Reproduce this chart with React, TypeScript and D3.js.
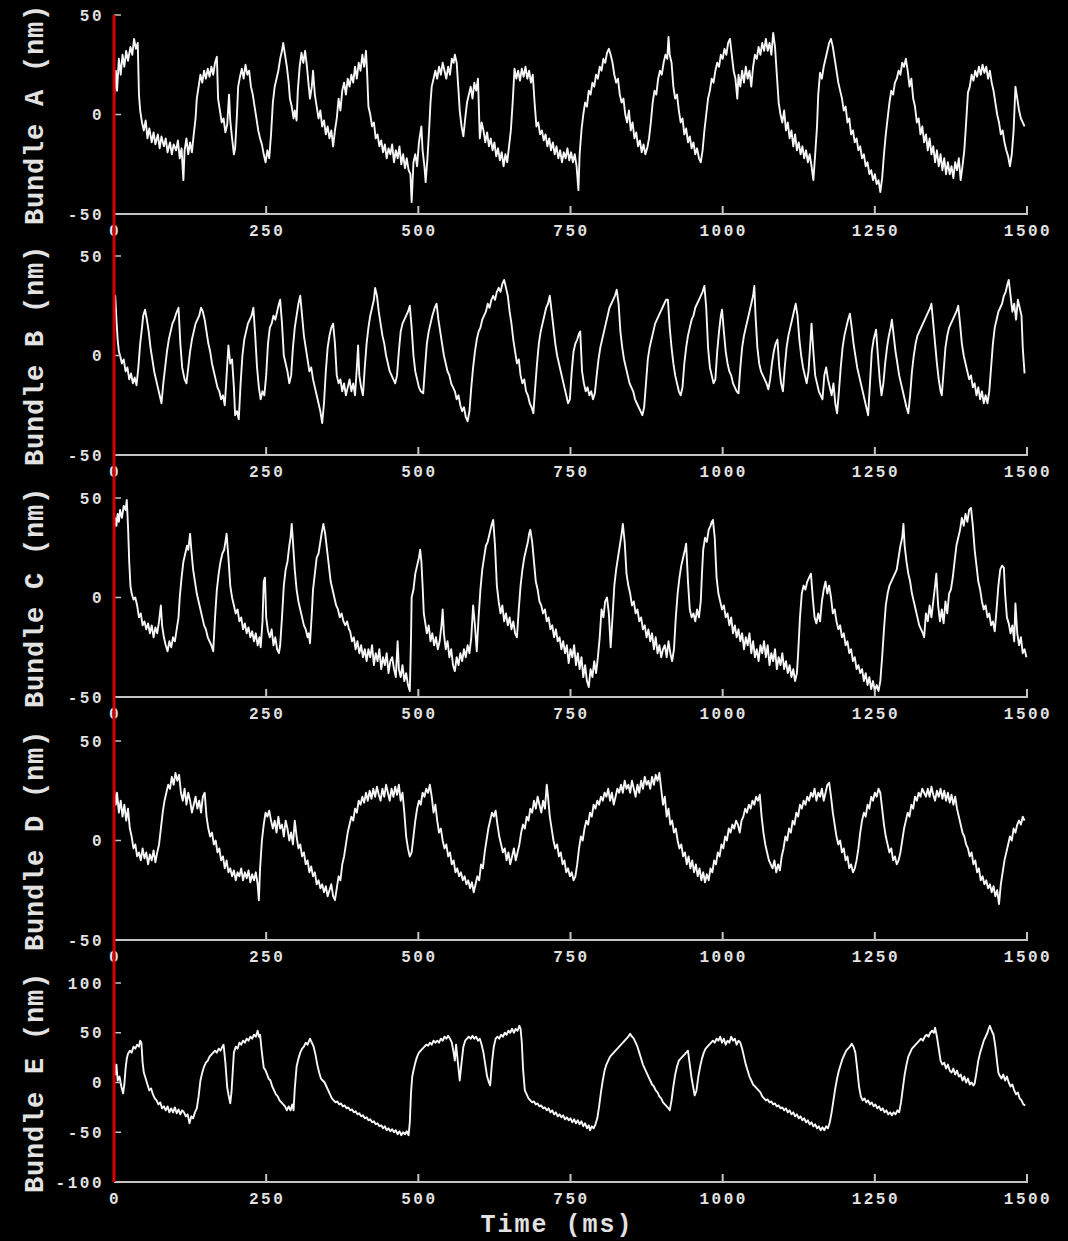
import React from 'react';
import * as d3 from 'd3';

type Pt = [number, number];

// ---------------- DATA ----------------
const timeTicks = [0, 250, 500, 750, 1000, 1250, 1500];
const panelNames = ['A', 'B', 'C', 'D', 'E'];
const yDomains: [number, number][] = [[-50, 50], [-50, 50], [-50, 50], [-50, 50], [-100, 100]];
const yTicksSmall = [-50, 0, 50];
const yTicksLarge = [-100, -50, 0, 50, 100];

const bundleA: Pt[] = [[0,8],[3,22],[5,12],[8,28],[11,20],[14,30],[17,24],[20,32],[23,27],[27,34],[30,30],[33,38],[36,33],[39,36],[41,10],[43,2],[46,-4],[49,-8],[52,-3],[55,-12],[58,-7],[62,-14],[65,-9],[68,-15],[72,-10],[75,-17],[78,-11],[82,-16],[85,-12],[88,-19],[92,-14],[95,-20],[98,-15],[102,-18],[105,-13],[108,-22],[111,-17],[114,-33],[116,-18],[119,-12],[122,-20],[125,-14],[128,-19],[131,-10],[134,-2],[136,8],[139,14],[142,20],[145,16],[148,22],[151,18],[154,23],[157,19],[160,24],[163,20],[166,26],[169,29],[171,8],[174,2],[177,-4],[180,-2],[183,-9],[186,-5],[189,10],[191,-3],[194,-12],[197,-20],[199,-17],[202,0],[204,14],[207,19],[210,23],[213,18],[216,25],[219,20],[222,22],[225,14],[228,10],[231,4],[234,-2],[237,-8],[240,-12],[243,-15],[246,-20],[249,-24],[252,-18],[255,-22],[258,-10],[261,6],[264,14],[267,18],[270,22],[273,28],[276,32],[278,36],[281,30],[284,24],[287,16],[289,8],[292,4],[295,-2],[297,2],[300,-3],[302,12],[305,24],[308,31],[311,26],[314,32],[317,24],[320,14],[322,8],[325,14],[327,22],[330,10],[333,4],[336,-2],[339,2],[342,-6],[345,-3],[348,-10],[351,-6],[354,-12],[357,-8],[360,-16],[363,-8],[366,-2],[369,8],[372,2],[375,12],[378,16],[381,10],[384,18],[387,14],[390,20],[393,16],[396,24],[399,18],[402,26],[405,22],[408,30],[411,24],[414,32],[416,20],[418,4],[421,0],[424,-6],[427,-4],[430,-12],[433,-10],[436,-16],[439,-13],[442,-19],[445,-15],[448,-22],[451,-17],[454,-20],[457,-15],[460,-24],[463,-18],[466,-22],[469,-16],[472,-25],[475,-20],[478,-27],[481,-22],[484,-28],[487,-30],[489,-44],[492,-24],[495,-20],[498,-26],[501,-14],[503,-10],[505,-6],[507,-18],[510,-26],[512,-34],[515,-22],[518,-6],[520,6],[522,14],[525,18],[528,22],[531,18],[534,24],[537,20],[540,26],[543,22],[546,18],[549,24],[552,20],[555,28],[558,26],[560,30],[563,26],[566,12],[568,2],[571,-6],[574,-11],[577,-2],[580,6],[583,10],[586,14],[589,8],[592,16],[595,12],[598,18],[601,-12],[604,-4],[607,-8],[610,-14],[613,-9],[616,-16],[619,-12],[622,-18],[625,-14],[628,-21],[631,-17],[634,-23],[637,-19],[640,-26],[643,-20],[646,-24],[649,-16],[652,-8],[655,6],[658,23],[661,18],[664,22],[667,17],[670,23],[673,19],[676,24],[679,18],[682,22],[685,16],[688,20],[691,6],[694,-6],[697,-4],[700,-10],[703,-8],[706,-13],[709,-10],[712,-16],[715,-12],[718,-18],[721,-14],[724,-20],[727,-16],[730,-22],[733,-18],[736,-24],[739,-19],[742,-22],[745,-17],[748,-23],[751,-19],[754,-24],[757,-20],[760,-26],[763,-38],[765,-20],[768,-8],[771,0],[774,6],[777,4],[780,12],[783,10],[786,16],[789,14],[792,20],[795,18],[798,24],[801,22],[804,28],[807,26],[810,31],[813,33],[816,30],[819,26],[822,20],[825,16],[828,18],[831,10],[834,6],[837,8],[840,0],[843,-4],[846,2],[849,-8],[852,-4],[855,-12],[858,-9],[861,-16],[864,-13],[867,-19],[870,-15],[873,-20],[876,-17],[879,-12],[882,-4],[885,6],[888,12],[891,10],[894,18],[897,22],[900,20],[903,26],[906,30],[909,28],[911,39],[913,30],[916,26],[919,14],[922,8],[925,10],[928,2],[931,-4],[934,-2],[937,-10],[940,-7],[943,-14],[946,-11],[949,-17],[952,-14],[955,-20],[958,-17],[961,-22],[964,-24],[967,-18],[970,-8],[973,0],[976,8],[979,12],[982,18],[985,16],[988,22],[991,26],[994,24],[997,30],[1000,28],[1003,33],[1006,30],[1009,36],[1012,38],[1015,30],[1018,22],[1021,18],[1024,8],[1026,20],[1029,14],[1032,22],[1035,16],[1038,24],[1041,18],[1044,22],[1047,14],[1050,24],[1053,30],[1056,28],[1059,34],[1062,30],[1065,36],[1068,32],[1071,38],[1074,32],[1077,36],[1080,30],[1083,41],[1086,34],[1089,20],[1092,6],[1095,0],[1098,-4],[1101,2],[1104,-8],[1107,-4],[1110,-12],[1113,-8],[1116,-16],[1119,-10],[1122,-18],[1125,-14],[1128,-20],[1131,-16],[1134,-22],[1137,-18],[1140,-24],[1143,-20],[1146,-26],[1149,-33],[1152,-20],[1155,-6],[1157,10],[1160,21],[1163,18],[1166,24],[1169,28],[1172,32],[1175,36],[1178,38],[1181,34],[1184,28],[1187,22],[1190,16],[1193,12],[1196,8],[1199,2],[1202,4],[1205,-4],[1208,-2],[1211,-10],[1214,-8],[1217,-14],[1220,-12],[1223,-18],[1226,-16],[1229,-22],[1232,-20],[1235,-26],[1238,-24],[1241,-30],[1244,-28],[1247,-33],[1250,-30],[1253,-35],[1256,-33],[1259,-39],[1262,-32],[1265,-20],[1268,-10],[1271,-2],[1274,6],[1277,12],[1280,10],[1283,16],[1286,18],[1289,22],[1292,20],[1295,26],[1298,24],[1301,28],[1304,22],[1307,14],[1310,18],[1313,8],[1316,4],[1319,-4],[1322,-2],[1325,-10],[1328,-6],[1331,-14],[1334,-10],[1337,-18],[1340,-12],[1343,-20],[1346,-16],[1349,-24],[1352,-18],[1355,-26],[1358,-20],[1361,-28],[1364,-22],[1367,-30],[1370,-24],[1373,-30],[1376,-26],[1379,-32],[1382,-24],[1385,-28],[1388,-22],[1391,-33],[1394,-26],[1397,-18],[1400,-4],[1403,11],[1406,14],[1409,20],[1412,17],[1415,22],[1418,19],[1421,24],[1424,20],[1427,25],[1430,21],[1433,24],[1436,18],[1439,22],[1442,16],[1445,12],[1448,6],[1451,0],[1454,-4],[1457,-10],[1460,-8],[1463,-14],[1466,-18],[1469,-21],[1472,-26],[1475,-20],[1478,-8],[1481,14],[1484,8],[1487,2],[1490,-2],[1493,-4],[1496,-6]];

const bundleB: Pt[] = [[0,28],[2,30],[4,18],[6,8],[8,2],[10,0],[13,-4],[16,-2],[19,-8],[22,-6],[25,-12],[28,-9],[31,-14],[34,-11],[37,-15],[40,-6],[43,6],[46,14],[48,20],[51,23],[54,18],[57,12],[60,4],[63,-2],[66,-8],[69,-12],[72,-16],[75,-20],[78,-24],[81,-14],[84,-6],[87,2],[90,8],[93,12],[96,16],[99,18],[102,21],[106,24],[109,6],[112,-6],[116,-12],[119,-14],[122,-6],[125,2],[128,8],[131,12],[134,16],[137,18],[140,20],[143,24],[146,22],[149,18],[152,12],[155,6],[158,2],[161,-4],[164,-8],[167,-12],[170,-16],[173,-18],[176,-22],[179,-20],[182,-25],[185,-10],[188,5],[191,-4],[194,-2],[197,-16],[199,-30],[202,-28],[205,-32],[208,-14],[211,0],[214,8],[217,12],[220,16],[223,18],[226,20],[229,24],[232,10],[235,-6],[238,-16],[241,-22],[244,-18],[247,-20],[250,-10],[253,6],[256,14],[259,16],[262,20],[265,18],[268,22],[271,26],[273,28],[276,16],[279,0],[282,-4],[285,-8],[288,-14],[291,-10],[294,4],[297,14],[300,20],[303,26],[306,30],[309,20],[312,10],[315,4],[318,-2],[321,-8],[324,-6],[327,-12],[330,-16],[333,-20],[336,-24],[339,-28],[342,-34],[345,-24],[348,-8],[351,4],[354,10],[357,14],[360,16],[363,6],[366,-10],[369,-14],[372,-12],[375,-18],[378,-14],[381,-20],[384,-16],[387,-12],[390,-18],[393,-14],[396,-20],[399,-6],[401,5],[403,-10],[406,-16],[409,-20],[412,-6],[415,6],[418,14],[421,20],[424,24],[427,28],[429,34],[432,30],[435,22],[438,16],[441,10],[444,6],[447,0],[450,-4],[453,-8],[456,-10],[459,-12],[462,-14],[465,-10],[468,2],[471,12],[474,16],[477,18],[480,20],[483,22],[486,25],[489,14],[492,0],[495,-8],[498,-12],[501,-16],[504,-18],[508,-19],[511,-6],[514,6],[517,12],[520,16],[523,20],[527,24],[530,26],[533,18],[536,12],[539,6],[542,0],[545,-4],[548,-8],[551,-10],[554,-14],[557,-16],[560,-18],[563,-22],[566,-20],[569,-25],[572,-28],[575,-26],[578,-31],[581,-33],[584,-28],[587,-16],[590,-6],[593,2],[596,8],[599,12],[602,14],[605,18],[608,20],[611,22],[614,26],[617,24],[620,28],[623,30],[626,28],[629,32],[632,34],[635,32],[638,36],[641,38],[644,34],[647,30],[650,22],[653,16],[656,8],[659,2],[662,-4],[665,-2],[668,-10],[671,-14],[674,-12],[677,-18],[680,-20],[683,-24],[686,-26],[689,-29],[692,-16],[695,-4],[698,6],[701,12],[704,16],[707,20],[710,24],[713,26],[716,30],[719,22],[722,14],[725,6],[728,0],[731,-4],[734,-8],[737,-12],[740,-16],[743,-20],[746,-24],[749,-22],[752,-8],[755,2],[758,6],[761,8],[764,11],[766,12],[769,-8],[772,-14],[775,-18],[778,-16],[781,-20],[784,-18],[787,-22],[790,-19],[793,-10],[796,-2],[799,4],[802,8],[805,12],[808,16],[811,20],[814,24],[817,26],[820,28],[823,30],[826,33],[829,26],[832,12],[835,4],[838,-2],[841,-6],[844,-10],[847,-14],[850,-16],[853,-18],[856,-22],[859,-24],[862,-26],[865,-28],[868,-30],[871,-26],[874,-14],[877,-2],[880,4],[883,8],[886,12],[889,16],[892,18],[895,20],[898,22],[901,24],[904,26],[907,28],[910,28],[913,14],[916,4],[919,-4],[922,-10],[925,-14],[928,-18],[931,-20],[934,-16],[937,-4],[940,4],[943,10],[946,14],[949,18],[952,20],[955,24],[958,26],[961,28],[964,30],[967,32],[970,35],[973,24],[976,4],[979,-6],[982,-10],[985,-14],[988,-12],[991,2],[994,12],[997,20],[999,23],[1002,12],[1005,2],[1008,-4],[1011,-8],[1014,-10],[1017,-14],[1020,-16],[1023,-18],[1026,-19],[1029,-6],[1032,4],[1035,10],[1038,14],[1041,18],[1044,22],[1047,26],[1050,30],[1052,35],[1054,20],[1057,4],[1060,-4],[1063,-8],[1066,-10],[1069,-12],[1072,-14],[1075,-17],[1078,-12],[1081,-4],[1084,2],[1087,6],[1090,8],[1093,-6],[1096,-14],[1099,-18],[1102,-6],[1105,4],[1108,10],[1111,14],[1114,18],[1117,22],[1120,26],[1123,20],[1126,8],[1129,0],[1132,-6],[1135,-10],[1138,-14],[1141,-8],[1144,6],[1146,16],[1149,2],[1152,-10],[1155,-14],[1158,-18],[1161,-20],[1164,-22],[1167,-10],[1170,-6],[1173,-12],[1176,-16],[1179,-20],[1182,-14],[1185,-24],[1188,-29],[1191,-18],[1194,-6],[1197,4],[1200,10],[1203,14],[1206,18],[1209,21],[1212,14],[1215,6],[1218,0],[1221,-6],[1224,-10],[1227,-14],[1230,-18],[1233,-22],[1236,-26],[1239,-30],[1242,-14],[1245,2],[1248,8],[1252,13],[1255,0],[1258,-12],[1261,-20],[1264,-14],[1267,-4],[1270,4],[1273,10],[1276,14],[1278,18],[1281,10],[1284,2],[1287,-4],[1290,-10],[1293,-14],[1296,-18],[1299,-22],[1302,-26],[1305,-29],[1308,-20],[1311,-8],[1314,0],[1317,6],[1320,10],[1323,12],[1326,14],[1329,16],[1332,18],[1335,20],[1338,22],[1341,24],[1343,26],[1346,16],[1349,6],[1352,-4],[1355,-12],[1358,-18],[1360,-20],[1363,-8],[1366,4],[1369,10],[1372,14],[1375,16],[1378,18],[1381,20],[1384,22],[1387,25],[1390,16],[1393,6],[1396,0],[1399,-4],[1402,-8],[1405,-12],[1408,-10],[1411,-16],[1414,-14],[1417,-20],[1420,-16],[1423,-22],[1426,-18],[1429,-24],[1432,-20],[1435,-24],[1438,-18],[1441,-6],[1444,6],[1447,14],[1450,18],[1453,22],[1456,24],[1459,26],[1462,30],[1465,32],[1468,36],[1470,38],[1473,30],[1476,22],[1479,26],[1482,18],[1485,28],[1488,24],[1491,20],[1493,4],[1496,-9]];

const bundleC: Pt[] = [[0,34],[2,40],[4,36],[6,42],[8,38],[10,44],[13,40],[16,46],[19,44],[21,49],[23,36],[25,18],[27,6],[29,2],[32,-1],[35,0],[38,-4],[41,-10],[44,-8],[47,-14],[50,-12],[53,-16],[56,-13],[59,-18],[62,-14],[65,-20],[68,-15],[71,-18],[74,-12],[77,-4],[79,-14],[82,-20],[85,-24],[88,-27],[91,-22],[94,-25],[97,-20],[100,-22],[103,-16],[106,-10],[108,0],[111,10],[114,18],[117,22],[120,26],[122,24],[125,32],[127,24],[130,14],[133,8],[136,2],[139,-2],[142,-6],[145,-10],[148,-14],[151,-16],[154,-20],[157,-22],[160,-24],[163,-27],[166,-10],[169,4],[172,12],[175,18],[178,22],[181,24],[183,28],[185,32],[188,20],[191,6],[194,0],[197,-4],[200,-8],[203,-6],[206,-12],[209,-10],[212,-16],[215,-13],[218,-18],[221,-15],[224,-20],[227,-17],[230,-22],[233,-18],[236,-24],[239,-20],[241,-25],[244,-12],[246,8],[248,10],[250,-10],[253,-17],[256,-20],[259,-16],[262,-24],[265,-20],[268,-26],[271,-28],[273,-24],[276,-10],[279,6],[282,14],[285,18],[288,26],[290,30],[292,37],[294,28],[297,14],[300,4],[303,-2],[306,-6],[309,-10],[312,-14],[315,-16],[318,-20],[320,-18],[322,-23],[325,-8],[327,4],[330,12],[333,20],[336,22],[339,28],[341,32],[344,37],[347,32],[350,24],[353,16],[356,8],[359,4],[362,0],[365,-4],[368,-6],[371,-10],[374,-8],[377,-12],[380,-14],[383,-12],[386,-16],[388,-17],[391,-22],[394,-20],[397,-26],[400,-22],[403,-28],[406,-24],[409,-30],[412,-26],[415,-32],[418,-26],[421,-30],[424,-24],[427,-34],[430,-28],[433,-32],[436,-26],[439,-36],[442,-30],[445,-34],[448,-28],[451,-38],[454,-32],[457,-30],[460,-36],[463,-40],[466,-22],[468,-36],[471,-40],[474,-34],[477,-42],[480,-38],[483,-44],[486,-47],[488,-20],[489,0],[492,4],[495,12],[498,16],[501,20],[503,24],[505,18],[507,6],[509,-8],[511,-12],[514,-18],[517,-14],[520,-22],[523,-18],[526,-24],[529,-20],[532,-26],[535,-22],[538,-14],[540,-6],[542,-18],[545,-26],[548,-22],[551,-30],[554,-26],[557,-34],[560,-37],[563,-30],[566,-34],[569,-28],[572,-32],[575,-26],[578,-30],[581,-24],[584,-28],[587,-20],[590,-4],[593,-14],[596,-27],[599,-10],[602,4],[605,14],[608,20],[611,26],[614,28],[617,32],[620,36],[623,39],[626,26],[629,6],[632,-2],[635,-8],[638,-4],[641,-12],[644,-8],[647,-14],[650,-10],[653,-16],[656,-12],[659,-18],[662,-20],[665,-6],[668,6],[671,14],[674,20],[677,24],[680,28],[682,32],[684,34],[687,28],[690,18],[693,8],[696,4],[699,-2],[702,-4],[705,-8],[708,-6],[711,-12],[714,-10],[717,-16],[720,-14],[723,-20],[726,-16],[729,-22],[732,-20],[735,-26],[738,-22],[741,-28],[744,-24],[747,-33],[750,-26],[753,-30],[756,-24],[759,-34],[762,-28],[765,-36],[768,-30],[771,-40],[774,-34],[777,-42],[780,-45],[783,-36],[786,-40],[789,-32],[792,-38],[795,-30],[798,-20],[801,-6],[804,-10],[807,-2],[810,0],[813,-8],[816,-25],[819,-10],[822,6],[825,14],[828,20],[831,26],[834,32],[836,37],[839,28],[842,12],[845,6],[848,2],[851,-4],[854,-2],[857,-8],[860,-6],[863,-12],[866,-10],[869,-16],[872,-14],[875,-20],[878,-16],[881,-22],[884,-18],[887,-26],[890,-20],[893,-28],[896,-24],[899,-30],[902,-26],[905,-24],[908,-30],[911,-22],[914,-28],[917,-32],[920,-26],[923,-10],[926,2],[929,10],[932,16],[935,20],[938,24],[940,27],[943,8],[946,-6],[949,-10],[952,-8],[955,-12],[958,-6],[961,-10],[964,-2],[966,12],[968,24],[971,30],[974,28],[977,34],[980,36],[982,38],[984,39],[987,30],[990,10],[993,2],[996,-2],[999,-6],[1002,-4],[1005,-10],[1008,-8],[1011,-14],[1014,-10],[1017,-18],[1020,-14],[1023,-20],[1026,-16],[1029,-22],[1032,-18],[1035,-26],[1038,-20],[1041,-24],[1044,-18],[1047,-28],[1050,-22],[1053,-30],[1056,-26],[1059,-32],[1062,-24],[1065,-28],[1068,-22],[1071,-30],[1074,-24],[1077,-34],[1080,-28],[1083,-32],[1086,-26],[1089,-36],[1092,-30],[1095,-34],[1098,-28],[1101,-36],[1104,-32],[1107,-38],[1110,-34],[1113,-40],[1116,-36],[1119,-42],[1122,-38],[1124,-28],[1127,-10],[1130,2],[1133,6],[1136,4],[1139,8],[1142,10],[1145,12],[1148,0],[1151,-10],[1154,-13],[1157,-8],[1160,-12],[1163,-2],[1166,4],[1169,8],[1172,2],[1175,6],[1178,0],[1181,-8],[1184,-6],[1187,-12],[1190,-16],[1193,-14],[1196,-20],[1199,-18],[1202,-24],[1205,-22],[1208,-28],[1211,-26],[1214,-32],[1217,-30],[1220,-36],[1223,-34],[1226,-38],[1229,-36],[1232,-42],[1235,-38],[1238,-44],[1241,-40],[1244,-46],[1247,-42],[1250,-47],[1253,-44],[1256,-47],[1259,-42],[1262,-30],[1265,-16],[1268,-4],[1271,2],[1274,6],[1277,8],[1280,10],[1283,12],[1286,14],[1289,20],[1292,26],[1295,30],[1297,37],[1299,26],[1302,18],[1305,12],[1308,8],[1311,2],[1314,-2],[1317,-6],[1320,-10],[1323,-14],[1326,-16],[1329,-18],[1331,-20],[1334,-8],[1337,-12],[1340,-4],[1343,-10],[1346,-2],[1349,6],[1351,12],[1354,-4],[1357,-12],[1360,-6],[1363,-13],[1366,-2],[1369,-8],[1372,2],[1375,4],[1378,10],[1381,18],[1384,26],[1387,30],[1390,34],[1393,40],[1396,36],[1399,42],[1402,38],[1405,44],[1408,45],[1411,36],[1414,24],[1417,16],[1420,8],[1423,4],[1426,-2],[1429,-6],[1432,-4],[1435,-10],[1438,-8],[1441,-14],[1444,-12],[1447,-17],[1450,-6],[1453,6],[1456,14],[1459,16],[1462,15],[1464,2],[1467,-10],[1470,-13],[1473,-18],[1476,-14],[1479,-22],[1481,-3],[1484,-18],[1487,-24],[1490,-20],[1493,-28],[1496,-26],[1499,-30]];

const bundleD: Pt[] = [[0,26],[3,18],[5,24],[8,14],[11,20],[14,12],[17,18],[20,10],[23,16],[26,6],[29,2],[32,-4],[35,-2],[38,-8],[41,-6],[44,-10],[47,-4],[50,-9],[53,-6],[56,-12],[59,-7],[62,-10],[65,-5],[68,-11],[71,-6],[74,-2],[77,6],[80,14],[83,20],[86,24],[89,28],[92,26],[95,32],[98,28],[101,34],[104,30],[107,33],[110,24],[113,20],[116,26],[119,18],[122,24],[125,20],[128,14],[131,18],[134,22],[137,16],[140,20],[143,14],[146,22],[149,24],[152,12],[155,6],[158,2],[161,4],[164,-2],[167,0],[170,-6],[173,-4],[176,-10],[179,-8],[182,-14],[185,-10],[188,-16],[191,-14],[194,-18],[197,-15],[200,-20],[203,-16],[206,-18],[209,-14],[212,-20],[215,-16],[218,-19],[221,-15],[224,-21],[227,-17],[230,-20],[233,-16],[236,-22],[238,-30],[240,-14],[243,0],[246,8],[249,14],[252,12],[255,15],[258,10],[261,6],[264,10],[267,4],[270,12],[273,6],[276,8],[279,2],[282,10],[285,6],[288,0],[291,4],[294,-2],[297,10],[300,2],[303,-4],[306,-2],[309,-8],[312,-6],[315,-12],[318,-10],[321,-16],[324,-13],[327,-18],[330,-16],[333,-22],[336,-20],[339,-24],[342,-22],[345,-26],[348,-23],[351,-28],[354,-25],[357,-22],[360,-28],[363,-30],[366,-24],[369,-18],[372,-20],[375,-12],[378,-8],[381,-2],[384,4],[387,8],[390,12],[393,10],[396,16],[399,14],[402,20],[405,18],[408,22],[411,19],[414,24],[417,20],[420,25],[423,21],[426,26],[429,22],[432,27],[435,23],[438,20],[441,26],[444,22],[447,28],[450,24],[453,20],[456,26],[459,22],[462,27],[465,23],[468,28],[471,20],[474,24],[477,14],[480,2],[483,-4],[486,-8],[489,-6],[492,2],[495,10],[498,16],[501,20],[504,18],[507,24],[510,22],[513,26],[516,24],[519,28],[522,22],[525,14],[528,18],[531,10],[534,4],[537,6],[540,0],[543,-4],[546,-2],[549,-8],[552,-6],[555,-12],[558,-10],[561,-16],[564,-14],[567,-18],[570,-16],[573,-20],[576,-18],[579,-22],[582,-20],[585,-24],[588,-21],[591,-26],[594,-22],[597,-18],[600,-20],[603,-12],[606,-14],[609,-6],[612,0],[615,6],[618,10],[621,14],[624,12],[627,15],[630,8],[633,2],[636,-2],[639,-6],[642,-4],[645,-10],[648,-6],[651,-12],[654,-8],[657,-4],[660,-10],[663,-6],[666,-2],[669,4],[672,8],[675,6],[678,12],[681,10],[684,16],[687,14],[690,20],[693,16],[696,22],[699,18],[702,14],[705,20],[708,16],[711,28],[713,22],[716,12],[719,6],[722,0],[725,-4],[728,-2],[731,-8],[734,-6],[737,-12],[740,-10],[743,-16],[746,-14],[749,-18],[752,-16],[755,-20],[758,-18],[761,-12],[764,-4],[767,2],[770,0],[773,6],[776,10],[779,8],[782,14],[785,12],[788,18],[791,16],[794,20],[797,18],[800,22],[803,20],[806,24],[809,22],[812,26],[815,20],[818,24],[821,18],[824,22],[827,26],[830,24],[833,28],[836,24],[839,30],[842,26],[845,28],[848,24],[851,30],[854,26],[857,22],[860,28],[863,24],[866,30],[869,26],[872,32],[875,28],[878,30],[881,26],[884,32],[887,28],[890,33],[893,30],[896,34],[899,26],[902,18],[905,22],[908,12],[911,16],[914,8],[917,10],[920,4],[923,6],[926,0],[929,-4],[932,-2],[935,-8],[938,-6],[941,-12],[944,-8],[947,-14],[950,-10],[953,-16],[956,-12],[959,-18],[962,-14],[965,-20],[968,-16],[971,-21],[974,-17],[977,-20],[980,-14],[983,-16],[986,-10],[989,-12],[992,-6],[995,-8],[998,-2],[1001,-4],[1004,2],[1007,0],[1010,6],[1013,4],[1016,8],[1019,6],[1022,10],[1025,8],[1028,4],[1031,10],[1034,12],[1037,16],[1040,14],[1043,18],[1046,16],[1049,20],[1052,18],[1055,22],[1058,20],[1061,23],[1064,12],[1067,4],[1070,-2],[1073,-6],[1076,-10],[1079,-12],[1082,-14],[1085,-10],[1088,-16],[1091,-12],[1094,-15],[1097,-8],[1100,-4],[1103,2],[1106,0],[1109,6],[1112,4],[1115,10],[1118,8],[1121,14],[1124,12],[1127,18],[1130,16],[1133,20],[1136,18],[1139,22],[1142,20],[1145,24],[1148,22],[1151,26],[1154,20],[1157,24],[1160,22],[1163,26],[1166,20],[1169,24],[1172,28],[1175,29],[1178,22],[1181,14],[1184,8],[1187,2],[1190,-2],[1193,0],[1196,-6],[1199,-4],[1202,-10],[1205,-8],[1208,-14],[1211,-12],[1214,-16],[1217,-14],[1220,-10],[1223,-4],[1226,4],[1229,10],[1232,14],[1235,12],[1238,18],[1241,16],[1244,22],[1247,20],[1250,24],[1253,22],[1256,26],[1259,24],[1262,16],[1265,8],[1268,2],[1271,-2],[1274,-6],[1277,-4],[1280,-10],[1283,-8],[1286,-12],[1289,-10],[1292,-6],[1295,0],[1298,6],[1301,10],[1304,14],[1307,12],[1310,18],[1313,16],[1316,22],[1319,20],[1322,24],[1325,22],[1328,26],[1331,24],[1334,22],[1337,26],[1340,22],[1343,27],[1346,23],[1349,20],[1352,25],[1355,22],[1358,26],[1361,21],[1364,25],[1367,20],[1370,24],[1373,19],[1376,23],[1379,18],[1382,22],[1385,16],[1388,12],[1391,8],[1394,4],[1397,2],[1400,-2],[1403,-4],[1406,-8],[1409,-6],[1412,-12],[1415,-10],[1418,-16],[1421,-14],[1424,-20],[1427,-18],[1430,-22],[1433,-20],[1436,-24],[1439,-22],[1442,-26],[1445,-23],[1448,-28],[1451,-25],[1454,-32],[1457,-22],[1460,-16],[1463,-10],[1466,-6],[1469,-2],[1472,2],[1475,0],[1478,6],[1481,4],[1484,8],[1487,10],[1490,8],[1493,12],[1496,10]];

const bundleE: Pt[] = [[0,22],[2,8],[4,18],[6,2],[9,6],[12,-4],[15,-11],[17,-2],[19,14],[21,24],[23,29],[26,32],[29,30],[32,36],[35,34],[38,38],[41,36],[43,42],[45,40],[47,20],[49,10],[52,4],[55,-2],[58,-8],[61,-6],[64,-12],[67,-16],[70,-18],[73,-22],[76,-20],[79,-26],[82,-24],[85,-28],[88,-24],[91,-30],[94,-26],[97,-30],[100,-25],[103,-31],[106,-27],[109,-32],[112,-28],[115,-30],[118,-34],[121,-32],[124,-41],[127,-34],[130,-36],[133,-30],[136,-26],[139,-14],[142,2],[145,10],[148,16],[151,20],[154,22],[157,26],[160,28],[163,30],[166,32],[169,30],[172,34],[175,32],[178,36],[180,38],[183,20],[186,-5],[188,-12],[191,-21],[193,-10],[195,10],[197,30],[200,36],[203,34],[206,40],[209,38],[212,42],[215,40],[218,44],[221,42],[224,46],[227,44],[230,48],[233,46],[236,52],[238,46],[240,48],[243,30],[246,15],[249,12],[251,9],[254,4],[257,2],[260,-4],[263,-8],[266,-12],[269,-14],[272,-18],[275,-20],[278,-22],[281,-24],[284,-28],[287,-24],[290,-28],[293,-22],[295,-28],[297,-6],[300,16],[303,24],[306,30],[309,34],[312,36],[315,40],[318,38],[322,44],[325,40],[328,36],[331,28],[334,18],[337,10],[340,4],[343,2],[346,0],[349,-4],[352,-8],[355,-12],[358,-16],[361,-18],[364,-20],[367,-19],[370,-22],[373,-21],[376,-24],[379,-23],[382,-26],[385,-25],[388,-28],[391,-27],[394,-30],[397,-29],[400,-32],[403,-31],[406,-34],[409,-33],[412,-36],[415,-35],[418,-38],[421,-37],[424,-40],[427,-39],[430,-42],[433,-41],[436,-44],[439,-43],[442,-46],[445,-44],[448,-48],[451,-46],[454,-49],[457,-47],[460,-50],[463,-48],[466,-52],[469,-49],[472,-53],[475,-50],[478,-52],[481,-49],[484,-53],[486,-40],[488,-10],[490,6],[492,12],[495,20],[498,26],[501,30],[504,32],[507,34],[510,36],[513,38],[516,37],[519,40],[522,38],[525,42],[528,40],[531,42],[534,40],[537,44],[540,42],[543,46],[546,44],[549,47],[552,44],[555,40],[558,30],[560,22],[562,38],[565,20],[568,2],[571,20],[574,36],[577,42],[580,44],[583,46],[586,44],[589,47],[592,44],[595,46],[598,42],[601,44],[604,38],[607,30],[610,18],[613,6],[616,0],[618,-3],[621,20],[624,36],[627,44],[630,46],[633,44],[636,48],[639,46],[642,50],[645,48],[648,52],[651,50],[654,54],[657,50],[660,54],[663,52],[666,57],[668,54],[670,40],[672,14],[675,-8],[678,-12],[681,-16],[684,-18],[687,-20],[690,-19],[693,-22],[696,-21],[699,-24],[702,-23],[705,-26],[708,-25],[711,-28],[714,-26],[717,-30],[720,-28],[723,-32],[726,-30],[729,-34],[732,-32],[735,-35],[738,-33],[741,-37],[744,-35],[747,-38],[750,-36],[753,-40],[756,-37],[759,-41],[762,-38],[765,-42],[768,-39],[771,-44],[774,-41],[777,-46],[780,-43],[782,-48],[785,-44],[788,-46],[791,-42],[794,-36],[797,-24],[800,-10],[803,2],[806,12],[809,18],[812,22],[815,26],[818,28],[821,30],[824,32],[827,34],[830,36],[833,38],[836,40],[839,42],[842,44],[845,46],[848,49],[851,46],[854,44],[857,40],[860,36],[863,30],[866,24],[869,18],[872,14],[875,10],[878,6],[881,2],[884,-2],[887,-4],[890,-8],[893,-10],[896,-14],[899,-16],[902,-20],[905,-22],[908,-24],[911,-26],[913,-28],[916,-18],[919,-4],[922,8],[925,16],[928,22],[931,24],[934,26],[937,28],[940,30],[943,32],[946,18],[949,4],[952,-6],[954,-13],[957,-8],[960,6],[963,16],[966,24],[969,30],[972,34],[975,36],[978,38],[981,40],[984,42],[987,40],[990,44],[993,42],[996,46],[999,40],[1002,44],[1005,38],[1008,42],[1011,40],[1014,46],[1017,42],[1020,44],[1023,38],[1026,42],[1029,40],[1032,34],[1035,26],[1038,18],[1041,12],[1044,6],[1047,2],[1050,-2],[1053,-4],[1056,-6],[1059,-8],[1062,-10],[1065,-14],[1068,-16],[1071,-18],[1074,-17],[1077,-20],[1080,-19],[1083,-22],[1086,-21],[1089,-24],[1092,-23],[1095,-26],[1098,-25],[1101,-28],[1104,-26],[1107,-30],[1110,-28],[1113,-32],[1116,-30],[1119,-34],[1122,-32],[1125,-36],[1128,-34],[1131,-38],[1134,-36],[1137,-40],[1140,-38],[1143,-42],[1146,-40],[1149,-44],[1152,-42],[1155,-46],[1158,-44],[1161,-48],[1164,-45],[1167,-48],[1170,-44],[1173,-46],[1176,-40],[1179,-30],[1182,-18],[1185,-6],[1188,4],[1191,12],[1194,18],[1197,24],[1200,28],[1203,32],[1206,34],[1209,36],[1212,39],[1215,36],[1218,30],[1221,14],[1224,-4],[1227,-14],[1230,-18],[1233,-16],[1236,-20],[1239,-18],[1242,-22],[1245,-20],[1248,-24],[1251,-22],[1254,-26],[1257,-24],[1260,-28],[1263,-26],[1266,-30],[1269,-28],[1272,-32],[1275,-30],[1278,-33],[1281,-30],[1284,-32],[1287,-28],[1290,-30],[1293,-20],[1296,-6],[1299,8],[1302,18],[1305,26],[1308,30],[1311,34],[1314,36],[1317,38],[1320,40],[1323,42],[1326,44],[1329,42],[1332,46],[1335,48],[1338,46],[1341,50],[1344,52],[1347,50],[1349,55],[1352,46],[1355,34],[1358,22],[1361,18],[1364,20],[1367,14],[1370,18],[1373,12],[1376,10],[1379,14],[1382,8],[1385,12],[1388,6],[1391,8],[1394,2],[1397,6],[1400,0],[1403,4],[1406,-2],[1409,0],[1412,-3],[1414,-1],[1417,10],[1420,22],[1423,30],[1426,36],[1429,42],[1432,46],[1435,50],[1437,54],[1439,57],[1442,52],[1445,48],[1448,36],[1451,20],[1453,10],[1455,7],[1458,4],[1461,8],[1464,2],[1467,6],[1470,0],[1473,-4],[1476,-2],[1479,-8],[1482,-12],[1485,-10],[1488,-16],[1491,-18],[1494,-22],[1497,-23]];

const series = [bundleA, bundleB, bundleC, bundleD, bundleE];

// ---------------- LAYOUT ----------------
const W = 1068;
const H = 1241;
const X_LEFT = 114;
const X_RIGHT = 1027;
const panelTops = [15, 256, 498, 741, 983];
const PANEL_H = 199;

const FONT = '"Liberation Mono", "DejaVu Sans Mono", monospace';
const TEXT = '#e2e2e2';
const AXIS = '#c4c4c4';

export default function App() {
  const x = d3.scaleLinear().domain([0, 1500]).range([X_LEFT, X_RIGHT]);
  const lastBottom = panelTops[4] + PANEL_H;

  return (
    <div style={{ position: 'absolute', left: 0, top: 0, width: W, height: H, background: '#000' }}>
      <svg width={W} height={H} style={{ display: 'block' }}>
        <defs>
          <filter id="soft" x="-5%" y="-5%" width="110%" height="110%">
            <feGaussianBlur stdDeviation="0.45" />
          </filter>
        </defs>
        <rect x={0} y={0} width={W} height={H} fill="#000" />
        {series.map((data, i) => {
          const top = panelTops[i];
          const bottom = top + PANEL_H;
          const y = d3.scaleLinear().domain(yDomains[i]).range([bottom, top]);
          const line = d3.line<Pt>().x((d) => x(d[0])).y((d) => y(d[1]));
          const yt = i === 4 ? yTicksLarge : yTicksSmall;
          return (
            <g key={i}>
              <path d={line(data) || ''} fill="none" stroke="#f6f6f6" strokeWidth={1.9} strokeLinejoin="round"
                filter="url(#soft)" />
              <line x1={X_LEFT} x2={X_RIGHT + 1} y1={bottom} y2={bottom} stroke={AXIS} strokeWidth={2} />
              {timeTicks.map((t) => (
                <g key={t}>
                  <line x1={x(t)} x2={x(t)} y1={bottom} y2={bottom - 8} stroke={AXIS} strokeWidth={2} />
                  <text x={x(t) + 1} y={bottom + 22} fill={TEXT} fontFamily={FONT} fontWeight="bold" fontSize={16}
                    letterSpacing={2.5} textAnchor="middle">{t}</text>
                </g>
              ))}
              {yt.map((v) => (
                <g key={v}>
                  <line x1={X_LEFT} x2={X_LEFT + 7} y1={y(v)} y2={y(v)} stroke={AXIS} strokeWidth={1.5} />
                  <text x={104} y={y(v)} dy="0.35em" fill={TEXT} fontFamily={FONT} fontWeight="bold" fontSize={16}
                    letterSpacing={2.5} textAnchor="end">{v}</text>
                </g>
              ))}
              <text transform={`translate(34,${(top + bottom) / 2}) rotate(-90)`} dy="0.35em" fill={TEXT}
                fontFamily={FONT} fontWeight="bold" fontSize={27} letterSpacing={0.8} textAnchor="middle">
                {`Bundle ${panelNames[i]} (nm)`}
              </text>
            </g>
          );
        })}
        <line x1={X_LEFT} x2={X_LEFT} y1={panelTops[0]} y2={lastBottom} stroke="#d40000" strokeWidth={3} />
        <text x={557} y={1232} fill={TEXT} fontFamily={FONT} fontWeight="bold" fontSize={25} letterSpacing={2}
          textAnchor="middle">Time (ms)</text>
      </svg>
    </div>
  );
}
